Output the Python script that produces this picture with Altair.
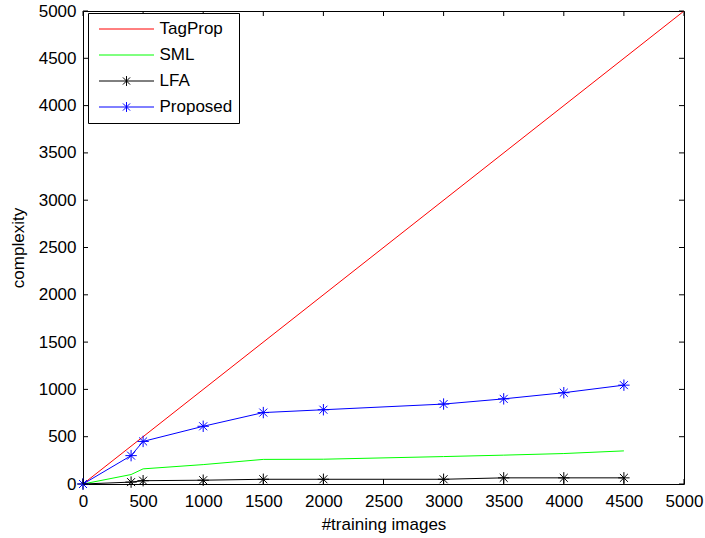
import altair as alt
import pandas as pd

# ---- data ----
series_names = ["TagProp", "SML", "LFA", "Proposed"]
series_colors = ["#ff0000", "#00ff00", "#000000", "#0000ff"]

tagprop_x = [0, 5000]
tagprop_y = [0, 5000]
sample_x = [0, 400, 500, 1000, 1500, 2000, 3000, 3500, 4000, 4500]
sml_y = [0, 100, 160, 205, 260, 262, 290, 305, 322, 350]
lfa_y = [0, 20, 35, 40, 50, 50, 50, 65, 65, 65]
proposed_y = [0, 300, 450, 610, 755, 785, 845, 900, 965, 1045]

x_ticks = [0, 500, 1000, 1500, 2000, 2500, 3000, 3500, 4000, 4500, 5000]
y_ticks = [0, 500, 1000, 1500, 2000, 2500, 3000, 3500, 4000, 4500, 5000]

rows = []
for xv, yv in zip(tagprop_x, tagprop_y):
    rows.append({"series": "TagProp", "x": xv, "y": yv})
for name, ys in (("SML", sml_y), ("LFA", lfa_y), ("Proposed", proposed_y)):
    for xv, yv in zip(sample_x, ys):
        rows.append({"series": name, "x": xv, "y": yv})
df = pd.DataFrame(rows)
df["order"] = df["series"].map({n: i for i, n in enumerate(series_names)})
df_marks = df[df["series"].isin(["LFA", "Proposed"])]
xt_df = pd.DataFrame({"x": x_ticks})
yt_df = pd.DataFrame({"y": y_ticks})

FONT = "Liberation Sans"
W, H = 601, 473
TICK = 5

ASTER = "M-1,0L1,0M0,-1L0,1M-0.7,-0.7L0.7,0.7M-0.7,0.7L0.7,-0.7"
LINE_SYM = "M-1,0L1,0"
r = 0.18
d = 0.13
LINE_ASTER = (f"M-1,0L1,0M0,-{r}L0,{r}M-{d},-{d}L{d},{d}M-{d},{d}L{d},-{d}")

xscale = alt.Scale(domain=[0, 5000], nice=False, zero=False)
yscale = alt.Scale(domain=[0, 5000], nice=False, zero=False)
color_scale = alt.Scale(domain=series_names, range=series_colors)

x_axis = alt.Axis(values=x_ticks, title="#training images", labelPadding=9,
                  titlePadding=7, format="d", labelFlush=False,
                  labelOverlap=False)
y_axis = alt.Axis(values=y_ticks, title="complexity", labelPadding=7,
                  titlePadding=11, format="d", labelFlush=False,
                  labelOverlap=False)

leg = dict(title=None, orient="none", legendX=5, legendY=2, symbolSize=3025,
           clipHeight=20, rowPadding=6, padding=6, symbolOffset=4.5,
           labelOffset=5, strokeColor="black", fillColor="white",
           cornerRadius=0, labelFont=FONT, labelFontSize=17,
           labelColor="black", symbolStrokeWidth=1)

X = alt.X("x:Q", scale=xscale, axis=x_axis)
Y = alt.Y("y:Q", scale=yscale, axis=y_axis)
C = alt.Color("series:N", scale=color_scale, legend=alt.Legend(**leg))

lines = alt.Chart(df).mark_line(strokeWidth=1, clip=True).encode(
    x=X, y=Y, color=C, detail="series:N", order="order:Q",
)

marks = alt.Chart(df_marks).mark_point(shape=ASTER, filled=False, size=130,
                                       strokeWidth=1, opacity=1).encode(
    x=X, y=Y, color=C,
)

legend_layer = alt.Chart(df).transform_filter("false").mark_point(
    filled=False, strokeWidth=1).encode(
    x=X, y=Y, color=C,
    shape=alt.Shape("series:N",
                    scale=alt.Scale(domain=series_names,
                                    range=[LINE_SYM, LINE_SYM, LINE_ASTER, LINE_ASTER]),
                    legend=alt.Legend(**leg)),
)

bottom_ticks = alt.Chart(xt_df).mark_rule(color="black", strokeWidth=1).encode(
    x=X, y=alt.value(H), y2=alt.value(H - TICK))
top_ticks = alt.Chart(xt_df).mark_rule(color="black", strokeWidth=1).encode(
    x=X, y=alt.value(0), y2=alt.value(TICK))
left_ticks = alt.Chart(yt_df).mark_rule(color="black", strokeWidth=1).encode(
    y=Y, x=alt.value(0), x2=alt.value(TICK))
right_ticks = alt.Chart(yt_df).mark_rule(color="black", strokeWidth=1).encode(
    y=Y, x=alt.value(W), x2=alt.value(W - TICK))

chart = alt.layer(
    lines, marks, legend_layer,
    bottom_ticks, top_ticks, left_ticks, right_ticks,
).properties(
    width=W, height=H,
    padding={"left": 83, "top": 11, "right": 21, "bottom": 54},
    autosize=alt.AutoSizeParams(type="none"),
    background="white",
).configure_view(
    stroke="black", strokeWidth=1
).configure_axis(
    domain=False, ticks=False, grid=False,
    labelFont=FONT, labelFontSize=17, labelColor="black",
    titleFont=FONT, titleFontSize=17, titleFontWeight="normal", titleColor="black",
)

chart.save("out.html", embed_options={"renderer": "svg", "actions": False})
